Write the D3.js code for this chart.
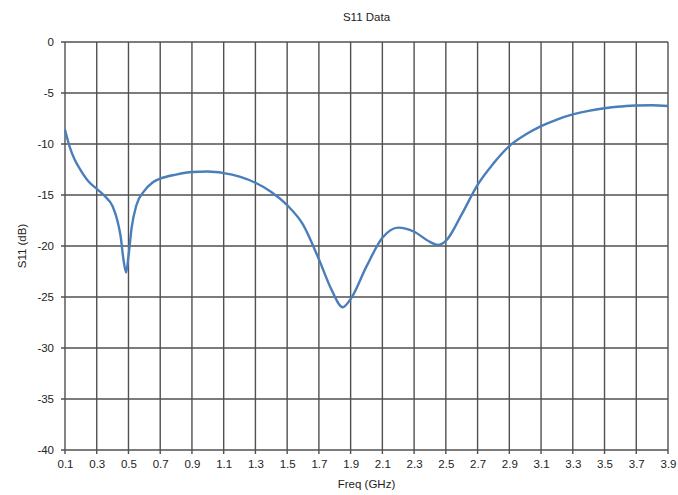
<!DOCTYPE html>
<html><head><meta charset="utf-8">
<script src="https://cdn.jsdelivr.net/npm/d3@7"></script>
<style>
html,body{margin:0;padding:0;background:#fff;}
svg text{font-family:"Liberation Sans",Arial,sans-serif;fill:#222;}
</style></head>
<body><svg id="c" width="678" height="495"></svg>
<script>
const freq = [0.10,0.13,0.16,0.20,0.25,0.30,0.35,0.40,0.43,0.45,0.47,0.485,0.50,0.52,0.55,0.60,0.65,0.70,0.80,0.90,1.00,1.10,1.20,1.30,1.40,1.50,1.60,1.70,1.78,1.85,1.90,2.00,2.10,2.20,2.30,2.40,2.45,2.50,2.60,2.70,2.80,2.90,3.00,3.10,3.20,3.30,3.40,3.50,3.60,3.70,3.80,3.90];
const s11 = [-8.6,-10.3,-11.5,-12.6,-13.7,-14.4,-15.1,-16.1,-17.5,-19.0,-21.5,-22.6,-21.0,-18.2,-16.0,-14.6,-13.8,-13.4,-13.0,-12.75,-12.7,-12.85,-13.2,-13.8,-14.7,-16.0,-17.9,-21.3,-24.3,-26.0,-25.2,-22.0,-19.2,-18.2,-18.6,-19.6,-19.9,-19.5,-16.9,-14.0,-11.9,-10.2,-9.1,-8.25,-7.6,-7.1,-6.75,-6.5,-6.33,-6.22,-6.2,-6.27];
const xTicks = [0.1,0.3,0.5,0.7,0.9,1.1,1.3,1.5,1.7,1.9,2.1,2.3,2.5,2.7,2.9,3.1,3.3,3.5,3.7,3.9];
const yTicks = [0,-5,-10,-15,-20,-25,-30,-35,-40];
const title = "S11 Data", xTitle = "Freq (GHz)", yTitle = "S11 (dB)";

const svg = d3.select("#c");
const L = 65, R = 668, T = 42, B = 450;
const x = d3.scaleLinear().domain([0.1,3.9]).range([L,R]);
const y = d3.scaleLinear().domain([-40,0]).range([B,T]);
const grid = "#505050";

const g = svg.append("g");
g.selectAll("line.v").data(xTicks).join("line")
  .attr("x1",d=>x(d)).attr("x2",d=>x(d)).attr("y1",T).attr("y2",B+4)
  .attr("stroke",grid).attr("stroke-width",1.4);
g.selectAll("line.h").data(yTicks).join("line")
  .attr("y1",d=>y(d)).attr("y2",d=>y(d)).attr("x1",L-4).attr("x2",R)
  .attr("stroke",grid).attr("stroke-width",1.4);

const xa = svg.append("g").attr("transform",`translate(0,${B})`)
  .call(d3.axisBottom(x).tickValues(xTicks).tickFormat(d3.format(".1f")).tickSize(0).tickPadding(10));
const ya = svg.append("g").attr("transform",`translate(${L},0)`)
  .call(d3.axisLeft(y).tickValues(yTicks).tickFormat(d=>d3.format("d")(d).replace("−","-")).tickSize(0).tickPadding(11));
[xa,ya].forEach(a=>{a.select(".domain").remove(); a.selectAll("text").style("font-size","11.5px").attr("fill","#222").style("font-family","'Liberation Sans',Arial,sans-serif");});

const line = d3.line().x((d,i)=>x(freq[i])).y(d=>y(d)).curve(d3.curveMonotoneX);
svg.append("path").datum(s11).attr("d",line).attr("fill","none")
  .attr("stroke","#4a7ebb").attr("stroke-width",2.4).attr("stroke-linejoin","round");

svg.append("text").attr("x",(L+R)/2).attr("y",21).attr("text-anchor","middle").style("font-size","11.5px").text(title);
svg.append("text").attr("x",(L+R)/2).attr("y",488).attr("text-anchor","middle").style("font-size","11.5px").text(xTitle);
svg.append("text").attr("transform",`translate(26,${(T+B)/2}) rotate(-90)`).attr("text-anchor","middle").style("font-size","11.5px").text(yTitle);
</script></body></html>
